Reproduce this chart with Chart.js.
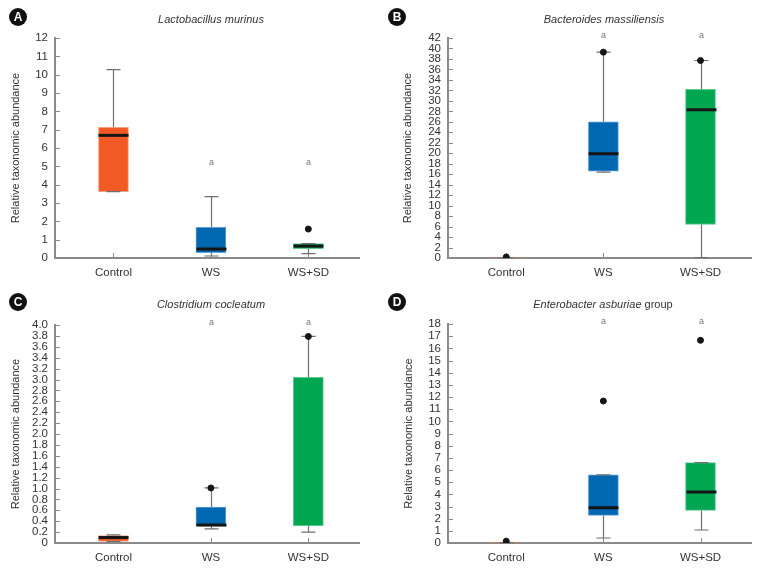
<!DOCTYPE html>
<html>
<head>
<meta charset="utf-8">
<title>Relative taxonomic abundance</title>
<script src="https://cdn.jsdelivr.net/npm/chart.js@4.4.1/dist/chart.umd.min.js"></script>
<style>
    html, body { margin: 0; padding: 0; background: #fff; }
    #figure { position: relative; width: 758px; height: 570px; }
    .panel { position: absolute; width: 379px; height: 285px; }
    .panel canvas { position: absolute; left: 0; top: 0; }
    .badge {
        position: absolute; left: 9px; top: 8px; width: 18px; height: 18px;
        border-radius: 50%; background: #111; color: #fff; text-align: center;
        font: bold 12px 'Liberation Sans', Arial, sans-serif; line-height: 18px;
    }
    .title {
        position: absolute; top: 12px; width: 300px; text-align: center;
        font: italic 11px 'Liberation Sans', Arial, sans-serif;
        color: #333; line-height: 14px;
    }
    .title span { font-style: normal; }
</style>
</head>
<body>
<div id="figure">
    <div class="panel" style="left:0;top:0">
        <canvas id="chart-a" width="379" height="285"></canvas>
        <div class="badge">A</div>
        <div class="title" style="left:61px">Lactobacillus murinus</div>
    </div>
    <div class="panel" style="left:379px;top:0">
        <canvas id="chart-b" width="379" height="285"></canvas>
        <div class="badge">B</div>
        <div class="title" style="left:75px">Bacteroides massiliensis</div>
    </div>
    <div class="panel" style="left:0;top:285px">
        <canvas id="chart-c" width="379" height="285"></canvas>
        <div class="badge">C</div>
        <div class="title" style="left:61px">Clostridium cocleatum</div>
    </div>
    <div class="panel" style="left:379px;top:285px">
        <canvas id="chart-d" width="379" height="285"></canvas>
        <div class="badge">D</div>
        <div class="title" style="left:74px">Enterobacter asburiae <span>group</span></div>
    </div>
</div>

<script>
// Groups (x categories)
const groups = ['Control', 'WS', 'WS+SD'];
const sigMarks = ['', 'a', 'a'];

// A - Lactobacillus murinus
const lactoLow = [3.62, 0.11, 0.24];
const lactoQ1 = [3.62, 0.29, 0.51];
const lactoMedian = [6.69, 0.49, 0.65];
const lactoQ3 = [7.13, 1.67, 0.78];
const lactoHigh = [10.27, 3.35, 0.78];
const lactoOutliers = [[], [], [1.58]];
const lactoTicks = [0, 1, 2, 3, 4, 5, 6, 7, 8, 9, 10, 11, 12];
const lactoSigLevel = 5.2;

// B - Bacteroides massiliensis
const bactLow = [0.05, 16.4, 0.1];
const bactQ1 = [0, 16.6, 6.4];
const bactMedian = [null, 19.9, 28.3];
const bactQ3 = [0.05, 26.0, 32.2];
const bactHigh = [0.05, 39.3, 37.7];
const bactOutliers = [[0.2], [39.3], [37.7]];
const bactTicks = [0, 2, 4, 6, 8, 10, 12, 14, 16, 18, 20, 22, 24, 26, 28, 30, 32, 34, 36, 38, 40, 42];
const bactSigLevel = 42.5;

// C - Clostridium cocleatum
const closLow = [0.03, 0.26, 0.2];
const closQ1 = [0.03, 0.31, 0.32];
const closMedian = [0.1, 0.33, null];
const closQ3 = [0.135, 0.66, 3.04];
const closHigh = [0.15, 1.01, 3.79];
const closOutliers = [[], [1.01], [3.79]];
const closTicks = [0, 0.2, 0.4, 0.6, 0.8, 1.0, 1.2, 1.4, 1.6, 1.8, 2.0, 2.2, 2.4, 2.6, 2.8, 3.0, 3.2, 3.4, 3.6, 3.8, 4.0];
const closSigLevel = 4.04;

// D - Enterobacter asburiae group
const enteLow = [0.03, 0.41, 1.07];
const enteQ1 = [0, 2.27, 2.68];
const enteMedian = [null, 2.9, 4.19];
const enteQ3 = [0.03, 5.6, 6.6];
const enteHigh = [0.03, 5.6, 6.6];
const enteOutliers = [[0.15], [11.67], [16.66]];
const enteTicks = [0, 1, 2, 3, 4, 5, 6, 7, 8, 9, 10, 11, 12, 13, 14, 15, 16, 17, 18];
const enteSigLevel = 18.2;

const groupColors = ['#f15a24', '#0067b1', '#00a650'];
const groupEdges = ['#f7a07c', '#5e9fd6', '#5cc98b'];
const AXIS_GRAY = '#8a8a8a';
const FONT = "'Liberation Sans', Arial, sans-serif";

Chart.defaults.font.family = FONT;
Chart.defaults.color = '#333';

/**
 * Whiskers, caps, medians, inward ticks and significance letters
 */
const boxPlotPlugin = {
    id: 'boxPlot',
    beforeDatasetsDraw(chart) {
        const {ctx, chartArea, scales: {x, y}} = chart;
        ctx.save();
        ctx.strokeStyle = AXIS_GRAY;
        ctx.lineWidth = 1;
        ctx.beginPath();
        y.ticks.forEach(t => {
            const py = Math.round(y.getPixelForValue(t.value)) + 0.5;
            ctx.moveTo(chartArea.left, py);
            ctx.lineTo(chartArea.left + 5, py);
        });
        groups.forEach((g, i) => {
            const px = Math.round(x.getPixelForValue(i + 1)) + 0.5;
            ctx.moveTo(px, chartArea.bottom);
            ctx.lineTo(px, chartArea.bottom - 5);
        });
        ctx.stroke();
        ctx.restore();
    },
    afterDatasetDraw(chart, args) {
        if (args.meta.type !== 'bar') return;
        const s = chart.options.plugins.boxPlot;
        const {ctx, scales: {x, y}} = chart;
        ctx.save();
        groups.forEach((g, i) => {
            const px = Math.round(x.getPixelForValue(i + 1)) + 0.5;
            const pLow = y.getPixelForValue(s.low[i]);
            const pHigh = y.getPixelForValue(s.high[i]);
            const pQ1 = y.getPixelForValue(s.q1[i]);
            const pQ3 = y.getPixelForValue(s.q3[i]);
            ctx.strokeStyle = '#6f6f6f';
            ctx.lineWidth = 1.2;
            ctx.beginPath();
            if (s.high[i] > s.q3[i]) { ctx.moveTo(px, pQ3); ctx.lineTo(px, pHigh); }
            if (s.low[i] < s.q1[i]) { ctx.moveTo(px, pQ1); ctx.lineTo(px, pLow); }
            ctx.moveTo(px - 7, pHigh); ctx.lineTo(px + 7, pHigh);
            ctx.moveTo(px - 7, pLow); ctx.lineTo(px + 7, pLow);
            ctx.stroke();
            if (s.median[i] !== null) {
                const pm = y.getPixelForValue(s.median[i]);
                ctx.strokeStyle = '#151515';
                ctx.lineWidth = 3;
                ctx.beginPath();
                ctx.moveTo(px - 15, pm);
                ctx.lineTo(px + 15, pm);
                ctx.stroke();
            }
            if (sigMarks[i]) {
                ctx.fillStyle = '#777';
                ctx.font = '9px ' + FONT;
                ctx.textAlign = 'center';
                ctx.textBaseline = 'middle';
                ctx.fillText(sigMarks[i], px, y.getPixelForValue(s.sigLevel));
            }
        });
        ctx.restore();
    }
};

/**
 * Build one box plot panel
 */
function createBoxPanel(elementId, stats, ticks, tickFormat, layout) {
    const ctx = document.getElementById(elementId).getContext('2d');

    const boxes = groups.map((g, i) => ({x: i + 1, y: [stats.q1[i], stats.q3[i]]}));
    const points = [];
    stats.outliers.forEach((list, i) => list.forEach(v => points.push({x: i + 1, y: v})));

    return new Chart(ctx, {
        type: 'bar',
        data: {
            datasets: [
                {
                    type: 'bar',
                    data: boxes,
                    backgroundColor: groupColors,
                    borderColor: groupEdges,
                    borderWidth: 1,
                    borderSkipped: false,
                    barThickness: 30,
                    order: 2
                },
                {
                    type: 'scatter',
                    data: points,
                    backgroundColor: '#151515',
                    borderColor: '#151515',
                    pointRadius: 3,
                    order: 1
                }
            ]
        },
        plugins: [boxPlotPlugin],
        options: {
            responsive: false,
            animation: false,
            layout: {
                padding: {top: layout.top, right: layout.right, left: 0, bottom: 0}
            },
            plugins: {
                legend: {display: false},
                tooltip: {enabled: false},
                boxPlot: Object.assign({}, stats)
            },
            scales: {
                x: {
                    type: 'linear',
                    offset: false,
                    min: 0.4,
                    max: 3.52,
                    grid: {display: false, drawTicks: false},
                    border: {display: true, color: AXIS_GRAY, width: 2},
                    afterBuildTicks: s => { s.ticks = groups.map((g, i) => ({value: i + 1})); },
                    afterFit: s => { s.height = 27; },
                    ticks: {
                        padding: 8,
                        color: '#333',
                        font: {size: 11.5},
                        callback: v => groups[v - 1]
                    }
                },
                y: {
                    type: 'linear',
                    min: ticks[0],
                    max: ticks[ticks.length - 1],
                    grid: {display: false, drawTicks: false},
                    border: {display: true, color: AXIS_GRAY, width: 2},
                    afterBuildTicks: s => { s.ticks = ticks.map(v => ({value: v})); },
                    afterFit: s => { s.width = layout.axisWidth; },
                    title: {
                        display: true,
                        text: 'Relative taxonomic abundance',
                        color: '#333',
                        font: {size: 11},
                        padding: {top: layout.titlePad, bottom: 0}
                    },
                    ticks: {
                        padding: 7,
                        color: '#333',
                        font: {size: 11.5},
                        autoSkip: false,
                        callback: tickFormat
                    }
                }
            }
        }
    });
}

const intFormat = v => String(v);
const decFormat = v => (v === 0 ? '0' : v.toFixed(1));

createBoxPanel('chart-a',
    {low: lactoLow, q1: lactoQ1, median: lactoMedian, q3: lactoQ3, high: lactoHigh, outliers: lactoOutliers, sigLevel: lactoSigLevel},
    lactoTicks, intFormat, {top: 38, right: 20, axisWidth: 55, titlePad: 9.5});

createBoxPanel('chart-b',
    {low: bactLow, q1: bactQ1, median: bactMedian, q3: bactQ3, high: bactHigh, outliers: bactOutliers, sigLevel: bactSigLevel},
    bactTicks, intFormat, {top: 38, right: 7, axisWidth: 69, titlePad: 22.5});

createBoxPanel('chart-c',
    {low: closLow, q1: closQ1, median: closMedian, q3: closQ3, high: closHigh, outliers: closOutliers, sigLevel: closSigLevel},
    closTicks, decFormat, {top: 40, right: 20, axisWidth: 55, titlePad: 9.5});

createBoxPanel('chart-d',
    {low: enteLow, q1: enteQ1, median: enteMedian, q3: enteQ3, high: enteHigh, outliers: enteOutliers, sigLevel: enteSigLevel},
    enteTicks, intFormat, {top: 39, right: 7, axisWidth: 69, titlePad: 23});
</script>
</body>
</html>
